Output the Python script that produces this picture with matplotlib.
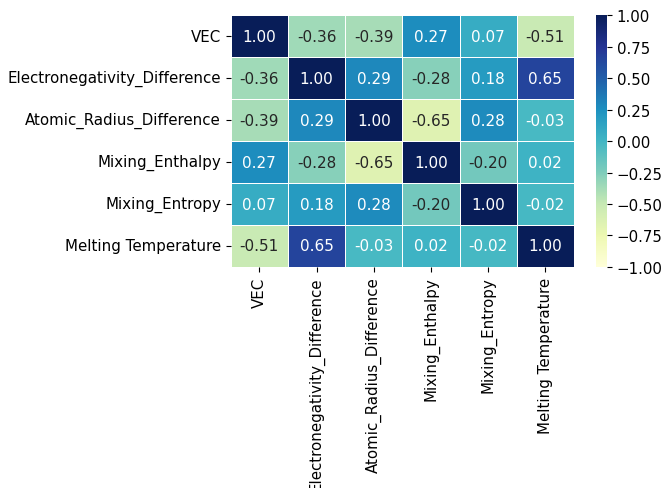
import numpy as np
import pandas as pd
import matplotlib
matplotlib.use("Agg")
import matplotlib.pyplot as plt
import seaborn as sns

# Feature names
features = ["VEC", "Electronegativity_Difference", "Atomic_Radius_Difference",
            "Mixing_Enthalpy", "Mixing_Entropy", "Melting Temperature"]

# Correlation values
row_vec = [1.00, -0.36, -0.39, 0.27, 0.07, -0.51]
row_en = [-0.36, 1.00, 0.29, -0.28, 0.18, 0.65]
row_ar = [-0.39, 0.29, 1.00, -0.65, 0.28, -0.03]
row_hmix = [0.27, -0.28, -0.65, 1.00, -0.20, 0.02]
row_smix = [0.07, 0.18, 0.28, -0.20, 1.00, -0.02]
row_tm = [-0.51, 0.65, -0.03, 0.02, -0.02, 1.00]

corr = pd.DataFrame([row_vec, row_en, row_ar, row_hmix, row_smix, row_tm],
                    index=features, columns=features)

fig = plt.figure(figsize=(6.65, 4.89), dpi=100)
ax = fig.add_axes([0.347, 0.452, 0.516, 0.515])
cax = fig.add_axes([0.896, 0.452, 0.0165, 0.515])

sns.heatmap(corr, ax=ax, cbar_ax=cax, cmap="YlGnBu", vmin=-1, vmax=1,
            annot=True, fmt=".2f", linewidths=0.6, linecolor="white",
            annot_kws={"size": 11})

ax.tick_params(axis="both", labelsize=10.8)
plt.setp(ax.get_xticklabels(), rotation=90)
plt.setp(ax.get_yticklabels(), rotation=0)
cax.tick_params(labelsize=10.8)
cax.set_yticks(np.arange(-1, 1.01, 0.25))

fig.savefig("out.png", dpi=100)
